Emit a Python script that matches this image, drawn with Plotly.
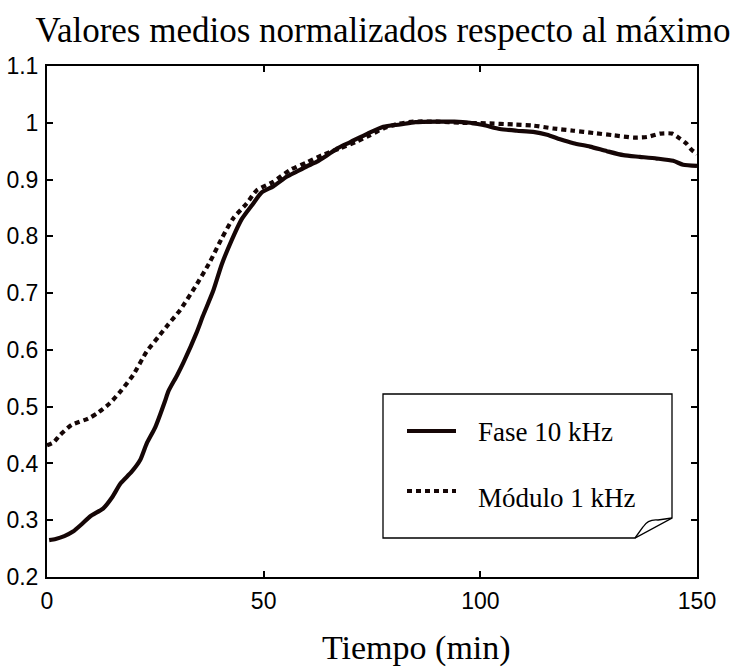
import plotly.graph_objects as go

# ---- data ----
fase_t = [0.5, 2, 4, 6, 8, 10, 13, 15, 17, 19.5, 21.5, 23, 25, 27.2, 28, 30, 31.5, 34.5, 36,
          38.4, 40.3, 42.6, 44.9, 47.6, 49.5, 52.2, 55.3, 57.6, 59.9, 62.2, 64.5, 67, 70, 74,
          77.6, 81.5, 85, 90, 94, 97.6, 100.7, 104.5, 108.4, 112.2, 115.4, 118.4, 121.5,
          125.3, 129.2, 133, 136.8, 140.7, 144.5, 146.8, 150]
fase_v = [0.265, 0.267, 0.272, 0.280, 0.293, 0.307, 0.321, 0.340, 0.365, 0.385, 0.406, 0.435,
          0.464, 0.509, 0.527, 0.555, 0.578, 0.630, 0.660, 0.705, 0.750, 0.793, 0.830, 0.858,
          0.877, 0.888, 0.905, 0.914, 0.923, 0.931, 0.942, 0.955, 0.966, 0.981, 0.993, 0.997,
          1.001, 1.002, 1.002, 1.000, 0.996, 0.989, 0.986, 0.984, 0.979, 0.971, 0.964, 0.958,
          0.950, 0.943, 0.940, 0.937, 0.933, 0.926, 0.924]

mod_t = [0, 1.5, 3, 5.7, 9.5, 11.5, 14.5, 17.2, 19.9, 23, 25.7, 28, 30.7, 34.2, 37.6, 40.3,
         43, 46.1, 48.4, 52.2, 56.1, 59.9, 63.5, 67.6, 71.5, 74.5, 77.6, 81, 84.5, 90, 95.3,
         101.5, 107.7, 112.2, 116.8, 121.5, 126.1, 130.7, 135.4, 138.5, 141.5, 144.2, 146.1,
         147.6, 148.8, 150]
mod_v = [0.432, 0.437, 0.450, 0.468, 0.479, 0.488, 0.506, 0.529, 0.556, 0.597, 0.623, 0.645,
         0.670, 0.711, 0.755, 0.796, 0.832, 0.858, 0.881, 0.896, 0.917, 0.930, 0.943, 0.955,
         0.967, 0.978, 0.990, 0.998, 1.002, 1.002, 1.000, 0.999, 0.997, 0.995, 0.990, 0.986,
         0.982, 0.978, 0.974, 0.975, 0.981, 0.981, 0.972, 0.963, 0.952, 0.945]

series_names = ["Fase 10 kHz", "Módulo 1 kHz"]
x_ticks = [0, 50, 100, 150]
y_ticks = [0.2, 0.3, 0.4, 0.5, 0.6, 0.7, 0.8, 0.9, 1.0, 1.1]
y_tick_labels = ["0.2", "0.3", "0.4", "0.5", "0.6", "0.7", "0.8", "0.9", "1", "1.1"]

title_text = "Valores medios normalizados respecto al máximo"
xlabel_text = "Tiempo (min)"

# ---- layout geometry ----
W, H = 734, 669
L, R, T, B = 47, 37, 66, 92
PW, PH = W - L - R, H - T - B

def px(x):
    return (x - L) / PW

def py(y):
    return (H - B - y) / PH

INK = "#150606"
SERIF = "Liberation Serif, Times New Roman, serif"
SANS = "Liberation Sans, Arial, sans-serif"
DOT = "5px,4px"

fig = go.Figure()
fig.add_trace(go.Scatter(x=fase_t, y=fase_v, mode="lines", name=series_names[0],
                         line=dict(color=INK, width=4.2, shape="spline", smoothing=0.6),
                         showlegend=False))
fig.add_trace(go.Scatter(x=mod_t, y=mod_v, mode="lines", name=series_names[1],
                         line=dict(color=INK, width=4.2, dash=DOT, shape="spline", smoothing=0.6),
                         showlegend=False))

axis_common = dict(showgrid=False, zeroline=False, showline=True, linecolor="black",
                   linewidth=2, mirror="ticks", ticks="inside", ticklen=6, tickwidth=1.5,
                   tickcolor="black", automargin=False,
                   tickfont=dict(family=SANS, size=23, color="black"))

fig.update_xaxes(range=[0, 150], tickvals=x_ticks, ticktext=[str(v) for v in x_ticks],
                 ticklabelstandoff=2, **axis_common)
fig.update_yaxes(range=[0.2, 1.1], tickvals=y_ticks, ticktext=y_tick_labels,
                 ticklabelstandoff=2, **axis_common)

# legend box with folded corner
lx0, lx1, ly0, ly1 = 383, 672, 394, 538
fold_y, fold_x = 518, 635
box_path = (f"M {px(lx0)},{py(ly0)} L {px(lx1)},{py(ly0)} L {px(lx1)},{py(fold_y)} "
            f"L {px(fold_x)},{py(ly1)} L {px(lx0)},{py(ly1)} Z")
curl_path = (f"M {px(fold_x)},{py(ly1)} L {px(643)},{py(527)} "
             f"Q {px(648)},{py(519)} {px(658)},{py(520)} L {px(lx1)},{py(fold_y)}")
shapes = [
    dict(type="path", xref="paper", yref="paper", path=box_path,
         line=dict(color="black", width=1.3), fillcolor="white", layer="above"),
    dict(type="path", xref="paper", yref="paper", path=curl_path,
         line=dict(color="black", width=1.3), fillcolor="rgba(0,0,0,0)", layer="above"),
    dict(type="line", xref="paper", yref="paper", x0=px(407), x1=px(456), y0=py(431), y1=py(431),
         line=dict(color=INK, width=4.2), layer="above"),
    dict(type="line", xref="paper", yref="paper", x0=px(407), x1=px(456), y0=py(491), y1=py(491),
         line=dict(color=INK, width=4.2, dash=DOT), layer="above"),
]

annotations = [
    dict(xref="paper", yref="paper", x=px(476), y=py(432), text=series_names[0],
         showarrow=False, xanchor="left", yanchor="middle",
         font=dict(family=SERIF, size=27, color="black")),
    dict(xref="paper", yref="paper", x=px(476), y=py(498), text=series_names[1],
         showarrow=False, xanchor="left", yanchor="middle",
         font=dict(family=SERIF, size=27, color="black")),
    dict(xref="paper", yref="paper", x=px(416), y=py(648), text=xlabel_text,
         showarrow=False, xanchor="center", yanchor="middle",
         font=dict(family=SERIF, size=34, color="black")),
]

fig.update_layout(
    width=W, height=H,
    margin=dict(l=L, r=R, t=T, b=B, pad=0, autoexpand=False),
    paper_bgcolor="white", plot_bgcolor="white",
    title=dict(text=title_text, x=383 / W, xanchor="center", xref="container",
               y=1 - 30 / H, yanchor="middle", yref="container",
               font=dict(family=SERIF, size=35, color="black")),
    shapes=shapes, annotations=annotations, showlegend=False,
)

fig.write_html("out.html", config={"displayModeBar": False})
